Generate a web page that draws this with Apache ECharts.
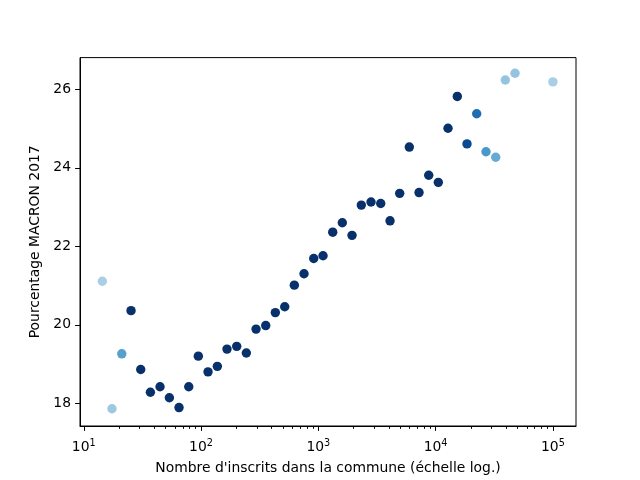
<!DOCTYPE html>
<html>
<head>
<meta charset="utf-8">
<script src="https://cdn.jsdelivr.net/npm/echarts@6/dist/echarts.min.js"></script>
<style>html,body{margin:0;padding:0;background:#fff}#c{width:640px;height:480px}</style>
</head>
<body>
<div id="c"></div>
<script>
// Number of registered voters per commune (bin centres, log scale)
const inscrits = [14.4, 17.4, 21.1, 25.3, 30.6, 37.0, 44.7, 53.7, 64.9, 78.6,
  94.8, 114.7, 137.7, 166.5, 201.5, 243.4, 294.4, 356.1, 429.9, 517.1,
  624.3, 755.2, 913.7, 1097, 1327, 1602, 1938, 2326, 2814, 3404,
  4087, 4941, 5968, 7220, 8734, 10544, 12757, 15310, 18520, 22404,
  26900, 32540, 39290, 47530, 100000];
// Macron 2017 percentage
const macron = [21.11, 17.86, 19.26, 20.36, 18.86, 18.28, 18.42, 18.14, 17.89, 18.42,
  19.20, 18.80, 18.94, 19.38, 19.45, 19.28, 19.89, 19.98, 20.31, 20.46,
  21.01, 21.30, 21.69, 21.76, 22.36, 22.60, 22.28, 23.05, 23.13, 23.09,
  22.65, 23.35, 24.53, 23.37, 23.81, 23.63, 25.01, 25.82, 24.61, 25.38,
  24.41, 24.27, 26.24, 26.41, 26.19];
// colour level (0..1) of each point on the Blues scale
const level = [0.34, 0.38, 0.56, 1, 1, 1, 1, 1, 1, 1,
  1, 1, 1, 1, 1, 1, 1, 1, 1, 1,
  1, 1, 1, 1, 1, 1, 1, 1, 1, 1,
  1, 1, 1, 1, 1, 1, 1, 1, 0.9, 0.76,
  0.6, 0.52, 0.4, 0.4, 0.34];
const yTicks = [18, 20, 22, 24, 26];
const xTicks = [10, 100, 1000, 10000, 100000];
const xMinor = [];
for (let e = 1; e <= 5; e++) for (let m = 2; m <= 9; m++) xMinor.push(m * Math.pow(10, e));

const xMin = Math.pow(10, 0.968), xMax = Math.pow(10, 5.197);
const font = 'DejaVu Sans';
const chart = echarts.init(document.getElementById('c'), null, {renderer: 'canvas'});
chart.setOption({
  animation: false,
  grid: {left: 80, right: 64, top: 57.6, bottom: 52.8, show: true, borderColor: '#000', borderWidth: 1, backgroundColor: 'transparent'},
  xAxis: [{
    type: 'log', logBase: 10, min: xMin, max: xMax,
    name: "Nombre d'inscrits dans la commune (échelle log.)",
    nameLocation: 'middle', nameGap: 35,
    nameTextStyle: {fontFamily: font, fontSize: 13.9, color: '#000'},
    axisLine: {show: true, lineStyle: {color: '#000', width: 1}},
    axisTick: {show: true, length: 4.9, inside: false, lineStyle: {color: '#000'}, customValues: xTicks},
    axisLabel: {
      customValues: xTicks, margin: 12, color: '#000',
      formatter: v => '{b|10}{s|' + Math.round(Math.log10(v)) + '}',
      rich: {b: {fontFamily: font, fontSize: 13.9, color: '#000', lineHeight: 18},
             s: {fontFamily: font, fontSize: 9.7, color: '#000', verticalAlign: 'top', lineHeight: 12}}
    },
    splitLine: {show: false}
  }, {
    type: 'log', logBase: 10, min: xMin, max: xMax, position: 'bottom',
    axisLine: {show: false},
    axisTick: {show: true, length: 2.8, lineStyle: {color: '#000'}, customValues: xMinor},
    axisLabel: {show: false},
    splitLine: {show: false}
  }],
  yAxis: {
    type: 'value', min: 17.42, max: 26.81,
    name: 'Pourcentage MACRON 2017', nameLocation: 'middle', nameGap: 27,
    nameTextStyle: {fontFamily: font, fontSize: 13.9, color: '#000'},
    axisLine: {show: true, lineStyle: {color: '#000', width: 1}},
    axisTick: {show: true, length: 4.9, lineStyle: {color: '#000'}, customValues: yTicks},
    axisLabel: {customValues: yTicks, margin: 9, fontFamily: font, fontSize: 13.9, color: '#000'},
    splitLine: {show: false}
  },
  visualMap: {
    show: false, type: 'continuous', min: 0, max: 1, dimension: 2,
    inRange: {color: ['#f7fbff', '#deebf7', '#c6dbef', '#9ecae1', '#6baed6', '#4292c6', '#2171b5', '#08519c', '#08306b']}
  },
  series: [{
    type: 'scatter', symbol: 'circle', symbolSize: 9.4,
    data: inscrits.map((x, i) => [x, macron[i], level[i]]),
    itemStyle: {opacity: 1}
  }]
});
</script>
</body>
</html>
